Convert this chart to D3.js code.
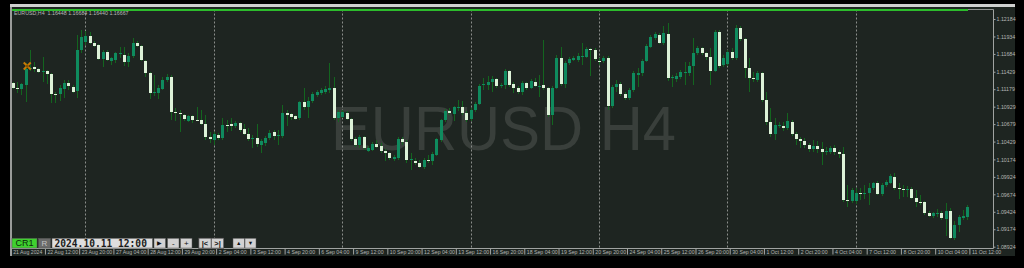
<!DOCTYPE html>
<html><head><meta charset="utf-8">
<script src="https://cdn.jsdelivr.net/npm/d3@7"></script>
<style>html,body{margin:0;padding:0;background:#000;overflow:hidden}</style>
</head><body>
<svg id="c" width="1024" height="268"></svg>
<script>
// ---------------- DATA ----------------
const tradingDays = ["2024.08.21","2024.08.22","2024.08.23","2024.08.26","2024.08.27","2024.08.28","2024.08.29","2024.08.30",
"2024.09.02","2024.09.03","2024.09.04","2024.09.05","2024.09.06","2024.09.09","2024.09.10","2024.09.11","2024.09.12","2024.09.13",
"2024.09.16","2024.09.17","2024.09.18","2024.09.19","2024.09.20","2024.09.23","2024.09.24","2024.09.25","2024.09.26","2024.09.27",
"2024.09.30","2024.10.01","2024.10.02","2024.10.03","2024.10.04","2024.10.07","2024.10.08","2024.10.09","2024.10.10","2024.10.11"];
const barHours = ["00:00","04:00","08:00","12:00","16:00","20:00"];

const opens = [
1.1127,1.1120,1.1118,1.1124,1.1147,1.1150,1.1147,1.1143,1.1144,1.1140,1.1111,1.1111,1.1118,1.1127,1.1121,1.1115,
1.1174,1.1185,1.1194,1.1184,1.1181,1.1161,1.1171,1.1158,1.1160,1.1168,1.1167,1.1157,1.1165,1.1184,1.1180,1.1158,
1.1141,1.1112,1.1112,1.1118,1.1131,1.1135,1.1085,1.1084,1.1081,1.1072,1.1080,1.1074,1.1074,1.1068,1.1050,1.1045,
1.1052,1.1048,1.1067,1.1068,1.1065,1.1070,1.1061,1.1054,1.1047,1.1048,1.1038,1.1041,1.1048,1.1057,1.1051,1.1051,
1.1084,1.1082,1.1080,1.1077,1.1100,1.1092,1.1101,1.1110,1.1112,1.1114,1.1117,1.1120,1.1077,1.1078,1.1084,1.1075,
1.1047,1.1038,1.1050,1.1029,1.1031,1.1039,1.1037,1.1029,1.1027,1.1018,1.1019,1.1047,1.1042,1.1017,1.1015,1.1012,
1.1007,1.1017,1.1015,1.1024,1.1045,1.1074,1.1087,1.1082,1.1092,1.1092,1.1084,1.1075,1.1088,1.1097,1.1124,1.1124,
1.1128,1.1132,1.1122,1.1124,1.1144,1.1125,1.1120,1.1114,1.1127,1.1120,1.1128,1.1122,1.1124,1.1120,1.1081,1.1120,
1.1163,1.1125,1.1155,1.1160,1.1160,1.1164,1.1164,1.1176,1.1174,1.1158,1.1158,1.1163,1.1094,1.1121,1.1125,1.1111,
1.1105,1.1117,1.1138,1.1141,1.1158,1.1178,1.1191,1.1196,1.1184,1.1197,1.1134,1.1132,1.1135,1.1142,1.1141,1.1151,
1.1170,1.1177,1.1170,1.1164,1.1144,1.1200,1.1153,1.1154,1.1171,1.1163,1.1206,1.1190,1.1148,1.1134,1.1131,1.1141,
1.1102,1.1071,1.1054,1.1065,1.1065,1.1062,1.1071,1.1054,1.1047,1.1044,1.1038,1.1032,1.1037,1.1032,1.1029,1.1028,
1.1034,1.1028,1.1025,1.0959,1.0958,1.0958,1.0969,1.0968,1.0969,1.0976,1.0984,1.0968,1.0981,1.0984,1.0992,1.0976,
1.0975,1.0974,1.0975,1.0962,1.0957,1.0957,1.0941,1.0936,1.0940,1.0941,1.0932,1.0944,1.0905,1.0924,1.0934,1.0935];

const highs = [
1.1128,1.1128,1.1127,1.1155,1.1174,1.1157,1.1148,1.1164,1.1145,1.1141,1.1114,1.1124,1.1131,1.1131,1.1124,1.1196,
1.1203,1.1201,1.1200,1.1187,1.1183,1.1174,1.1174,1.1164,1.1171,1.1178,1.1178,1.1170,1.1191,1.1187,1.1181,1.1160,
1.1143,1.1138,1.1124,1.1135,1.1140,1.1138,1.1091,1.1088,1.1082,1.1081,1.1081,1.1092,1.1088,1.1081,1.1057,1.1057,
1.1055,1.1077,1.1074,1.1077,1.1072,1.1071,1.1068,1.1062,1.1052,1.1068,1.1047,1.1051,1.1060,1.1060,1.1060,1.1095,
1.1088,1.1084,1.1081,1.1101,1.1120,1.1107,1.1114,1.1117,1.1120,1.1122,1.1155,1.1135,1.1088,1.1088,1.1087,1.1077,
1.1050,1.1052,1.1051,1.1037,1.1042,1.1045,1.1041,1.1032,1.1028,1.1024,1.1050,1.1050,1.1045,1.1027,1.1019,1.1017,
1.1019,1.1024,1.1028,1.1048,1.1075,1.1090,1.1091,1.1094,1.1102,1.1101,1.1087,1.1091,1.1100,1.1125,1.1134,1.1137,
1.1137,1.1134,1.1127,1.1147,1.1145,1.1128,1.1122,1.1130,1.1128,1.1132,1.1134,1.1138,1.1188,1.1121,1.1122,1.1167,
1.1178,1.1158,1.1164,1.1165,1.1170,1.1184,1.1178,1.1177,1.1177,1.1163,1.1165,1.1165,1.1124,1.1131,1.1128,1.1114,
1.1120,1.1144,1.1148,1.1161,1.1183,1.1196,1.1200,1.1198,1.1208,1.1213,1.1138,1.1141,1.1145,1.1157,1.1157,1.1191,
1.1180,1.1178,1.1171,1.1177,1.1203,1.1203,1.1167,1.1174,1.1177,1.1210,1.1208,1.1191,1.1162,1.1143,1.1144,1.1143,
1.1114,1.1091,1.1077,1.1071,1.1071,1.1084,1.1074,1.1057,1.1050,1.1048,1.1041,1.1045,1.1044,1.1043,1.1035,1.1037,
1.1038,1.1031,1.1035,1.0981,1.0976,1.0976,1.0977,1.0981,1.0984,1.0985,1.0987,1.0984,1.0988,1.0997,1.0998,1.0984,
1.0981,1.0979,1.0978,1.0974,1.0967,1.0958,1.0944,1.0942,1.0947,1.0944,1.0955,1.0948,1.0929,1.0938,1.0945,1.0952];

const lows = [
1.1118,1.1112,1.1110,1.1100,1.1144,1.1143,1.1141,1.1128,1.1125,1.1098,1.1098,1.1101,1.1105,1.1117,1.1112,1.1105,
1.1170,1.1181,1.1183,1.1178,1.1160,1.1150,1.1158,1.1153,1.1155,1.1163,1.1151,1.1150,1.1163,1.1178,1.1158,1.1135,
1.1104,1.1108,1.1104,1.1117,1.1128,1.1074,1.1072,1.1057,1.1072,1.1071,1.1070,1.1072,1.1067,1.1045,1.1041,1.1038,
1.1045,1.1045,1.1057,1.1058,1.1062,1.1057,1.1052,1.1044,1.1034,1.1035,1.1027,1.1037,1.1045,1.1045,1.1038,1.1048,
1.1065,1.1074,1.1074,1.1074,1.1088,1.1077,1.1098,1.1107,1.1110,1.1111,1.1112,1.1074,1.1071,1.1077,1.1074,1.1044,
1.1035,1.1034,1.1031,1.1028,1.1029,1.1034,1.1027,1.1015,1.1017,1.1015,1.1017,1.1038,1.1012,1.1002,1.1009,1.1005,
1.1004,1.1012,1.1009,1.1022,1.1042,1.1071,1.1081,1.1072,1.1087,1.1081,1.1071,1.1072,1.1085,1.1095,1.1117,1.1117,
1.1114,1.1120,1.1120,1.1118,1.1121,1.1112,1.1111,1.1110,1.1117,1.1118,1.1121,1.1107,1.1117,1.1078,1.1067,1.1118,
1.1122,1.1120,1.1153,1.1158,1.1157,1.1153,1.1163,1.1137,1.1158,1.1153,1.1155,1.1088,1.1091,1.1114,1.1108,1.1102,
1.1102,1.1114,1.1121,1.1137,1.1157,1.1177,1.1188,1.1183,1.1181,1.1130,1.1121,1.1128,1.1132,1.1124,1.1137,1.1124,
1.1167,1.1167,1.1160,1.1124,1.1143,1.1148,1.1150,1.1151,1.1160,1.1160,1.1187,1.1134,1.1114,1.1128,1.1128,1.1100,
1.1067,1.1050,1.1045,1.1062,1.1058,1.1060,1.1051,1.1038,1.1034,1.1034,1.1028,1.1028,1.1027,1.1009,1.1024,1.1025,
1.1024,1.1019,1.0956,1.0949,1.0955,1.0954,1.0959,1.0960,1.0952,1.0974,1.0966,1.0965,1.0978,1.0982,1.0974,1.0961,
1.0963,1.0963,1.0961,1.0949,1.0952,1.0938,1.0935,1.0934,1.0935,1.0931,1.0908,1.0904,1.0902,1.0914,1.0931,1.0931];

const closes = [
1.1120,1.1118,1.1125,1.1147,1.1148,1.1147,1.1143,1.1144,1.1140,1.1111,1.1110,1.1120,1.1127,1.1122,1.1114,1.1174,
1.1193,1.1194,1.1184,1.1180,1.1161,1.1171,1.1160,1.1163,1.1170,1.1170,1.1157,1.1165,1.1184,1.1180,1.1160,1.1141,
1.1112,1.1114,1.1120,1.1131,1.1135,1.1085,1.1084,1.1082,1.1075,1.1080,1.1074,1.1073,1.1068,1.1050,1.1047,1.1054,
1.1048,1.1067,1.1066,1.1065,1.1070,1.1060,1.1054,1.1047,1.1048,1.1039,1.1044,1.1048,1.1055,1.1051,1.1052,1.1084,
1.1081,1.1078,1.1075,1.1100,1.1092,1.1101,1.1111,1.1114,1.1117,1.1118,1.1120,1.1077,1.1085,1.1085,1.1075,1.1047,
1.1038,1.1050,1.1034,1.1034,1.1039,1.1035,1.1029,1.1027,1.1019,1.1021,1.1047,1.1042,1.1017,1.1018,1.1012,1.1007,
1.1017,1.1016,1.1025,1.1047,1.1074,1.1087,1.1084,1.1092,1.1093,1.1084,1.1074,1.1088,1.1097,1.1122,1.1125,1.1128,
1.1132,1.1122,1.1124,1.1144,1.1124,1.1120,1.1114,1.1127,1.1120,1.1130,1.1122,1.1123,1.1120,1.1081,1.1120,1.1163,
1.1125,1.1155,1.1161,1.1163,1.1165,1.1165,1.1176,1.1175,1.1161,1.1157,1.1163,1.1094,1.1121,1.1125,1.1111,1.1105,
1.1117,1.1141,1.1141,1.1158,1.1180,1.1193,1.1197,1.1184,1.1198,1.1134,1.1135,1.1137,1.1143,1.1143,1.1151,1.1170,
1.1177,1.1170,1.1164,1.1144,1.1200,1.1151,1.1163,1.1171,1.1163,1.1206,1.1190,1.1148,1.1134,1.1132,1.1141,1.1102,
1.1071,1.1054,1.1067,1.1067,1.1062,1.1072,1.1054,1.1047,1.1044,1.1038,1.1032,1.1037,1.1032,1.1028,1.1030,1.1034,
1.1028,1.1025,1.0959,1.0958,1.0974,1.0969,1.0968,1.0969,1.0976,1.0984,1.0968,1.0981,1.0985,1.0994,1.0976,1.0975,
1.0974,1.0975,1.0962,1.0957,1.0956,1.0941,1.0936,1.0941,1.0941,1.0934,1.0944,1.0905,1.0924,1.0935,1.0937,1.0949];

const priceTicks = [1.12184,1.11934,1.11684,1.11429,1.11179,1.10929,1.10679,1.10429,1.10174,1.09924,1.09674,1.09424,1.09174,1.08924];
const timeTickLabels = ["21 Aug 2024","22 Aug 12:00","23 Aug 20:00","27 Aug 04:00","28 Aug 12:00","29 Aug 20:00","2 Sep 04:00",
"3 Sep 12:00","4 Sep 20:00","6 Sep 04:00","9 Sep 12:00","10 Sep 20:00","12 Sep 04:00","13 Sep 12:00","16 Sep 20:00","18 Sep 04:00",
"19 Sep 12:00","20 Sep 20:00","24 Sep 04:00","25 Sep 12:00","26 Sep 20:00","30 Sep 04:00","1 Oct 12:00","2 Oct 20:00","4 Oct 04:00",
"7 Oct 12:00","8 Oct 20:00","10 Oct 04:00","11 Oct 12:00"];
const weekStarts = ["2024.08.26 00:00","2024.09.02 00:00","2024.09.09 00:00","2024.09.16 00:00","2024.09.23 00:00","2024.09.30 00:00","2024.10.07 00:00"];
const headerText = "EURUSD,H4  1.16448 1.16684 1.16440 1.16667";
const watermark = "EURUSD H4";
const tradeMarker = {bar: 3.4, price: 1.1151};
const replayTime = "2024.10.11 12:00";

// ---------------- BUILD ----------------
const categories = tradingDays.flatMap(d => barHours.map(h => d + " " + h)).slice(1, 1 + opens.length);
const bars = categories.map((t, i) => ({t, i, o: opens[i], h: highs[i], l: lows[i], c: closes[i]}));

const svg = d3.select("#c");
const FONT = "'Liberation Sans', Arial, sans-serif";
const P = {left: 11.5, right: 993.5, top: 9.5, bottom: 248.5};

const x = d3.scaleLinear().domain([0, 224]).range([12.7, 971.4]);
const y = d3.scaleLinear().domain([priceTicks[0], priceTicks[priceTicks.length - 1]]).range([19, 246.7]);

svg.append("rect").attr("width", 1024).attr("height", 268).attr("fill", "#000");
// window strip + panel
svg.append("rect").attr("x", 10).attr("y", 4).attr("width", 1005).attr("height", 3).attr("fill", "#cfd0cf");
svg.append("rect").attr("x", 10).attr("y", 7).attr("width", 1005).attr("height", 249).attr("fill", "#1e2521");
svg.append("rect").attr("x", 10).attr("y", 7).attr("width", 2).attr("height", 249).attr("fill", "#9a9c9a");

// watermark
svg.append("text").attr("x", 331).attr("y", 150)
  .attr("textLength", 345).attr("lengthAdjust", "spacingAndGlyphs")
  .attr("font-family", FONT).attr("font-size", 63).attr("fill", "#393f3b").text(watermark);

svg.append("clipPath").attr("id", "clip").append("rect")
  .attr("x", 12).attr("y", P.top + 1).attr("width", P.right - 12).attr("height", P.bottom - P.top - 1);

const plotG = svg.append("g").attr("clip-path", "url(#clip)");

// weekly separators
plotG.selectAll("line.sep").data(weekStarts.map(w => categories.indexOf(w))).join("line")
  .attr("x1", d => Math.round(x(d)) + 0.5).attr("x2", d => Math.round(x(d)) + 0.5)
  .attr("y1", P.top).attr("y2", P.bottom)
  .attr("stroke", "#8a8e8b").attr("stroke-width", 1).attr("stroke-dasharray", "2,2");

// wicks
plotG.selectAll("rect.wick").data(bars).join("rect")
  .attr("x", d => Math.round(x(d.i)))
  .attr("y", d => Math.round(y(d.h)))
  .attr("width", 1)
  .attr("height", d => Math.max(1, Math.round(y(d.l)) - Math.round(y(d.h))))
  .attr("fill", "#13651f");

// bodies
plotG.selectAll("rect.body").data(bars).join("rect")
  .attr("x", d => Math.round(x(d.i)) - 1)
  .attr("y", d => Math.round(y(Math.max(d.o, d.c))))
  .attr("width", 3)
  .attr("height", d => Math.max(1, Math.round(y(Math.min(d.o, d.c))) - Math.round(y(Math.max(d.o, d.c)))))
  .attr("fill", d => d.c >= d.o ? "#0f8b5e" : "#ddf2d8");

// trade marker
const mx = x(tradeMarker.bar), my = y(tradeMarker.price);
const mk = plotG.append("g").attr("stroke", "#c77a05").attr("stroke-width", 2);
mk.append("line").attr("x1", mx - 3.5).attr("y1", my - 3.5).attr("x2", mx + 3.5).attr("y2", my + 3.5);
mk.append("line").attr("x1", mx - 3.5).attr("y1", my + 3.5).attr("x2", mx + 3.5).attr("y2", my - 3.5);
plotG.append("circle").attr("cx", mx).attr("cy", my).attr("r", 1.6).attr("fill", "#8a5200");

// plot borders
svg.append("line").attr("x1", 12).attr("x2", P.right).attr("y1", P.top).attr("y2", P.top).attr("stroke", "#8e928f");
svg.append("line").attr("x1", P.right).attr("x2", P.right).attr("y1", P.top).attr("y2", P.bottom).attr("stroke", "#a0a3a1");
svg.append("line").attr("x1", 11).attr("x2", P.right).attr("y1", P.bottom).attr("y2", P.bottom).attr("stroke", "#a0a3a1");
// green top line
svg.append("rect").attr("x", 12).attr("y", 9).attr("width", Math.round(x(bars.length - 1)) + 1 - 12).attr("height", 2).attr("fill", "#2cbc2c");

// header
svg.append("text").attr("x", 14).attr("y", 15).attr("font-family", FONT).attr("font-size", 5.3)
  .attr("fill", "#b8bab8").attr("xml:space", "preserve").style("white-space", "pre").text(headerText);

// y axis
const yAxis = d3.axisRight(y).tickValues(priceTicks).tickFormat(d3.format(".5f")).tickSize(2).tickPadding(1);
const yg = svg.append("g").attr("transform", `translate(${P.right},0)`).call(yAxis);
yg.select(".domain").remove();
yg.selectAll(".tick line").attr("stroke", "#a0a3a1");
yg.selectAll(".tick text").attr("font-family", FONT).attr("font-size", 5.3).attr("fill", "#b4b6b4");

// x axis
const xAxis = d3.axisBottom(x).tickValues(timeTickLabels.map((_, i) => i * 8))
  .tickFormat((d, i) => timeTickLabels[i]).tickSize(6);
const xg = svg.append("g").attr("transform", `translate(0,${P.bottom})`).call(xAxis);
xg.select(".domain").remove();
xg.selectAll(".tick line").attr("x1", -2).attr("x2", -2).attr("stroke", "#a0a3a1");
xg.selectAll(".tick text").attr("text-anchor", "start").attr("x", 0).attr("y", 2.2).attr("dy", "0.71em")
  .attr("font-family", FONT).attr("font-size", 5.2).attr("fill", "#b4b6b4");

// toolbar
const TY = 238.3, TH = 9.7;
const buttons = [
  {x: 12, w: 25, text: "CR1", fill: "#3fd12f", color: "#0c2a0c", size: 9},
  {x: 38.5, w: 12, text: "R", fill: "#6a6b6a", color: "#c2c2c2", size: 8},
  {x: 52, w: 100.5, text: replayTime, fill: "#dedede", color: "#1a1a1a", size: 9.6, mono: true},
  {x: 154, w: 11.5, text: "\u25B6", fill: "#d2d2d2", color: "#111", size: 5.5},
  {x: 167.5, w: 11.5, text: "-", fill: "#d2d2d2", color: "#111", size: 8},
  {x: 180.5, w: 11.5, text: "+", fill: "#d2d2d2", color: "#111", size: 8},
  {x: 199, w: 12, text: "|<", fill: "#d2d2d2", color: "#111", size: 7.5, bold: true},
  {x: 211.5, w: 12, text: ">|", fill: "#d2d2d2", color: "#111", size: 7.5, bold: true},
  {x: 233, w: 11.5, text: "\u25B2", fill: "#d2d2d2", color: "#111", size: 5.5},
  {x: 245, w: 11, text: "\u25BC", fill: "#d2d2d2", color: "#111", size: 5.5}
];
const tb = svg.append("g");
tb.append("rect").attr("x", 198).attr("y", TY - 0.5).attr("width", 26).attr("height", TH + 1).attr("fill", "#3a3a3a");
const bg = tb.selectAll("g.btn").data(buttons).join("g");
bg.append("rect").attr("x", d => d.x).attr("y", TY).attr("width", d => d.w).attr("height", TH)
  .attr("fill", d => d.fill).attr("stroke", "#555").attr("stroke-width", 0.5);
bg.append("text")
  .attr("x", d => d.mono ? d.x + 2.5 : d.x + d.w / 2)
  .attr("y", TY + TH / 2).attr("dy", "0.36em")
  .attr("text-anchor", d => d.mono ? "start" : "middle")
  .attr("font-family", d => d.mono ? "'DejaVu Sans Mono', monospace" : FONT)
  .attr("font-weight", d => (d.mono || d.bold) ? "bold" : "normal")
  .attr("font-size", d => d.size).attr("fill", d => d.color).text(d => d.text);
</script>
</body></html>
